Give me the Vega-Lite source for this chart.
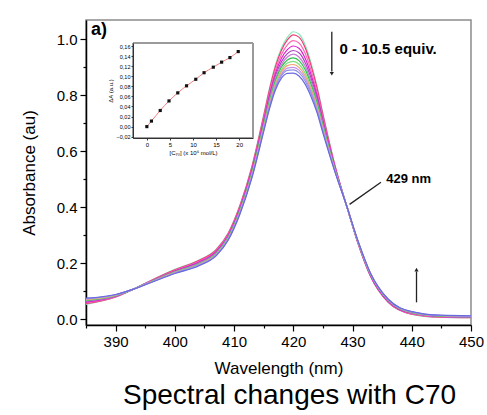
{
  "$schema": "https://vega.github.io/schema/vega-lite/v6.json",
  "width": 385,
  "height": 305,
  "autosize": {"type": "none"},
  "padding": {"left": 86, "top": 20, "right": 16, "bottom": 90},
  "background": "white",
  "config": {
    "view": {"stroke": "#8c8c8c", "strokeWidth": 1.5},
    "font": "Liberation Sans",
    "axis": {"labelFont": "Liberation Sans", "titleFont": "Liberation Sans", "labelColor": "#000", "titleColor": "#000", "titleFontWeight": "normal", "grid": false}
  },
  "title": {"text": "Spectral changes with C70", "orient": "bottom", "anchor": "middle", "fontSize": 28, "fontWeight": "normal", "font": "Liberation Sans", "color": "#000", "dx": 11, "offset": 6},
  "datasets": {
    "spectra": [
      {"s":1,"w":385,"a":0.053},{"s":1,"w":390,"a":0.078},{"s":1,"w":393,"a":0.107},{"s":1,"w":396,"a":0.139},{"s":1,"w":400,"a":0.178},{"s":1,"w":404,"a":0.210},{"s":1,"w":407,"a":0.250},{"s":1,"w":409,"a":0.308},{"s":1,"w":411,"a":0.408},{"s":1,"w":413,"a":0.546},{"s":1,"w":415,"a":0.730},{"s":1,"w":416,"a":0.827},{"s":1,"w":417,"a":0.910},{"s":1,"w":418,"a":0.969},{"s":1,"w":419,"a":1.007},{"s":1,"w":420,"a":1.027},{"s":1,"w":421,"a":1.018},{"s":1,"w":422,"a":0.980},{"s":1,"w":423,"a":0.915},{"s":1,"w":424,"a":0.833},{"s":1,"w":425,"a":0.735},{"s":1,"w":427,"a":0.553},{"s":1,"w":429,"a":0.405},{"s":1,"w":431,"a":0.266},{"s":1,"w":433,"a":0.154},{"s":1,"w":436,"a":0.060},{"s":1,"w":440,"a":0.017},{"s":1,"w":445,"a":0.006},{"s":1,"w":450,"a":0.005},
      {"s":2,"w":385,"a":0.055},{"s":2,"w":390,"a":0.079},{"s":2,"w":393,"a":0.107},{"s":2,"w":396,"a":0.138},{"s":2,"w":400,"a":0.176},{"s":2,"w":404,"a":0.209},{"s":2,"w":407,"a":0.248},{"s":2,"w":409,"a":0.306},{"s":2,"w":411,"a":0.406},{"s":2,"w":413,"a":0.543},{"s":2,"w":415,"a":0.726},{"s":2,"w":416,"a":0.822},{"s":2,"w":417,"a":0.903},{"s":2,"w":418,"a":0.961},{"s":2,"w":419,"a":0.998},{"s":2,"w":420,"a":1.016},{"s":2,"w":421,"a":1.007},{"s":2,"w":422,"a":0.970},{"s":2,"w":423,"a":0.906},{"s":2,"w":424,"a":0.826},{"s":2,"w":425,"a":0.730},{"s":2,"w":427,"a":0.551},{"s":2,"w":429,"a":0.405},{"s":2,"w":431,"a":0.266},{"s":2,"w":433,"a":0.155},{"s":2,"w":436,"a":0.061},{"s":2,"w":440,"a":0.018},{"s":2,"w":445,"a":0.007},{"s":2,"w":450,"a":0.005},
      {"s":3,"w":385,"a":0.058},{"s":3,"w":390,"a":0.080},{"s":3,"w":393,"a":0.107},{"s":3,"w":396,"a":0.137},{"s":3,"w":400,"a":0.174},{"s":3,"w":404,"a":0.206},{"s":3,"w":407,"a":0.245},{"s":3,"w":409,"a":0.302},{"s":3,"w":411,"a":0.401},{"s":3,"w":413,"a":0.537},{"s":3,"w":415,"a":0.717},{"s":3,"w":416,"a":0.811},{"s":3,"w":417,"a":0.891},{"s":3,"w":418,"a":0.946},{"s":3,"w":419,"a":0.980},{"s":3,"w":420,"a":0.995},{"s":3,"w":421,"a":0.986},{"s":3,"w":422,"a":0.950},{"s":3,"w":423,"a":0.889},{"s":3,"w":424,"a":0.812},{"s":3,"w":425,"a":0.720},{"s":3,"w":427,"a":0.547},{"s":3,"w":429,"a":0.405},{"s":3,"w":431,"a":0.267},{"s":3,"w":433,"a":0.157},{"s":3,"w":436,"a":0.063},{"s":3,"w":440,"a":0.019},{"s":3,"w":445,"a":0.008},{"s":3,"w":450,"a":0.006},
      {"s":4,"w":385,"a":0.061},{"s":4,"w":390,"a":0.081},{"s":4,"w":393,"a":0.107},{"s":4,"w":396,"a":0.136},{"s":4,"w":400,"a":0.172},{"s":4,"w":404,"a":0.203},{"s":4,"w":407,"a":0.242},{"s":4,"w":409,"a":0.299},{"s":4,"w":411,"a":0.397},{"s":4,"w":413,"a":0.532},{"s":4,"w":415,"a":0.709},{"s":4,"w":416,"a":0.802},{"s":4,"w":417,"a":0.879},{"s":4,"w":418,"a":0.932},{"s":4,"w":419,"a":0.963},{"s":4,"w":420,"a":0.976},{"s":4,"w":421,"a":0.967},{"s":4,"w":422,"a":0.932},{"s":4,"w":423,"a":0.874},{"s":4,"w":424,"a":0.800},{"s":4,"w":425,"a":0.711},{"s":4,"w":427,"a":0.544},{"s":4,"w":429,"a":0.405},{"s":4,"w":431,"a":0.269},{"s":4,"w":433,"a":0.158},{"s":4,"w":436,"a":0.064},{"s":4,"w":440,"a":0.020},{"s":4,"w":445,"a":0.009},{"s":4,"w":450,"a":0.007},
      {"s":5,"w":385,"a":0.063},{"s":5,"w":390,"a":0.083},{"s":5,"w":393,"a":0.107},{"s":5,"w":396,"a":0.135},{"s":5,"w":400,"a":0.171},{"s":5,"w":404,"a":0.201},{"s":5,"w":407,"a":0.239},{"s":5,"w":409,"a":0.296},{"s":5,"w":411,"a":0.394},{"s":5,"w":413,"a":0.527},{"s":5,"w":415,"a":0.703},{"s":5,"w":416,"a":0.794},{"s":5,"w":417,"a":0.870},{"s":5,"w":418,"a":0.920},{"s":5,"w":419,"a":0.949},{"s":5,"w":420,"a":0.960},{"s":5,"w":421,"a":0.951},{"s":5,"w":422,"a":0.917},{"s":5,"w":423,"a":0.861},{"s":5,"w":424,"a":0.790},{"s":5,"w":425,"a":0.704},{"s":5,"w":427,"a":0.541},{"s":5,"w":429,"a":0.405},{"s":5,"w":431,"a":0.270},{"s":5,"w":433,"a":0.159},{"s":5,"w":436,"a":0.065},{"s":5,"w":440,"a":0.022},{"s":5,"w":445,"a":0.010},{"s":5,"w":450,"a":0.008},
      {"s":6,"w":385,"a":0.065},{"s":6,"w":390,"a":0.083},{"s":6,"w":393,"a":0.107},{"s":6,"w":396,"a":0.135},{"s":6,"w":400,"a":0.169},{"s":6,"w":404,"a":0.199},{"s":6,"w":407,"a":0.237},{"s":6,"w":409,"a":0.294},{"s":6,"w":411,"a":0.391},{"s":6,"w":413,"a":0.523},{"s":6,"w":415,"a":0.697},{"s":6,"w":416,"a":0.787},{"s":6,"w":417,"a":0.861},{"s":6,"w":418,"a":0.910},{"s":6,"w":419,"a":0.937},{"s":6,"w":420,"a":0.947},{"s":6,"w":421,"a":0.936},{"s":6,"w":422,"a":0.904},{"s":6,"w":423,"a":0.850},{"s":6,"w":424,"a":0.781},{"s":6,"w":425,"a":0.697},{"s":6,"w":427,"a":0.539},{"s":6,"w":429,"a":0.405},{"s":6,"w":431,"a":0.270},{"s":6,"w":433,"a":0.161},{"s":6,"w":436,"a":0.067},{"s":6,"w":440,"a":0.022},{"s":6,"w":445,"a":0.010},{"s":6,"w":450,"a":0.008},
      {"s":7,"w":385,"a":0.067},{"s":7,"w":390,"a":0.084},{"s":7,"w":393,"a":0.107},{"s":7,"w":396,"a":0.134},{"s":7,"w":400,"a":0.168},{"s":7,"w":404,"a":0.197},{"s":7,"w":407,"a":0.235},{"s":7,"w":409,"a":0.292},{"s":7,"w":411,"a":0.388},{"s":7,"w":413,"a":0.520},{"s":7,"w":415,"a":0.692},{"s":7,"w":416,"a":0.780},{"s":7,"w":417,"a":0.853},{"s":7,"w":418,"a":0.901},{"s":7,"w":419,"a":0.926},{"s":7,"w":420,"a":0.934},{"s":7,"w":421,"a":0.923},{"s":7,"w":422,"a":0.892},{"s":7,"w":423,"a":0.839},{"s":7,"w":424,"a":0.773},{"s":7,"w":425,"a":0.691},{"s":7,"w":427,"a":0.537},{"s":7,"w":429,"a":0.405},{"s":7,"w":431,"a":0.271},{"s":7,"w":433,"a":0.162},{"s":7,"w":436,"a":0.068},{"s":7,"w":440,"a":0.023},{"s":7,"w":445,"a":0.011},{"s":7,"w":450,"a":0.009},
      {"s":8,"w":385,"a":0.069},{"s":8,"w":390,"a":0.085},{"s":8,"w":393,"a":0.107},{"s":8,"w":396,"a":0.133},{"s":8,"w":400,"a":0.167},{"s":8,"w":404,"a":0.196},{"s":8,"w":407,"a":0.233},{"s":8,"w":409,"a":0.289},{"s":8,"w":411,"a":0.385},{"s":8,"w":413,"a":0.516},{"s":8,"w":415,"a":0.687},{"s":8,"w":416,"a":0.774},{"s":8,"w":417,"a":0.845},{"s":8,"w":418,"a":0.891},{"s":8,"w":419,"a":0.915},{"s":8,"w":420,"a":0.921},{"s":8,"w":421,"a":0.910},{"s":8,"w":422,"a":0.879},{"s":8,"w":423,"a":0.829},{"s":8,"w":424,"a":0.764},{"s":8,"w":425,"a":0.685},{"s":8,"w":427,"a":0.535},{"s":8,"w":429,"a":0.405},{"s":8,"w":431,"a":0.272},{"s":8,"w":433,"a":0.163},{"s":8,"w":436,"a":0.069},{"s":8,"w":440,"a":0.024},{"s":8,"w":445,"a":0.012},{"s":8,"w":450,"a":0.010},
      {"s":9,"w":385,"a":0.070},{"s":9,"w":390,"a":0.086},{"s":9,"w":393,"a":0.107},{"s":9,"w":396,"a":0.133},{"s":9,"w":400,"a":0.166},{"s":9,"w":404,"a":0.194},{"s":9,"w":407,"a":0.231},{"s":9,"w":409,"a":0.287},{"s":9,"w":411,"a":0.383},{"s":9,"w":413,"a":0.513},{"s":9,"w":415,"a":0.682},{"s":9,"w":416,"a":0.768},{"s":9,"w":417,"a":0.839},{"s":9,"w":418,"a":0.884},{"s":9,"w":419,"a":0.906},{"s":9,"w":420,"a":0.910},{"s":9,"w":421,"a":0.899},{"s":9,"w":422,"a":0.869},{"s":9,"w":423,"a":0.820},{"s":9,"w":424,"a":0.757},{"s":9,"w":425,"a":0.680},{"s":9,"w":427,"a":0.533},{"s":9,"w":429,"a":0.405},{"s":9,"w":431,"a":0.273},{"s":9,"w":433,"a":0.164},{"s":9,"w":436,"a":0.070},{"s":9,"w":440,"a":0.025},{"s":9,"w":445,"a":0.012},{"s":9,"w":450,"a":0.010},
      {"s":10,"w":385,"a":0.072},{"s":10,"w":390,"a":0.087},{"s":10,"w":393,"a":0.107},{"s":10,"w":396,"a":0.132},{"s":10,"w":400,"a":0.165},{"s":10,"w":404,"a":0.193},{"s":10,"w":407,"a":0.230},{"s":10,"w":409,"a":0.286},{"s":10,"w":411,"a":0.381},{"s":10,"w":413,"a":0.510},{"s":10,"w":415,"a":0.678},{"s":10,"w":416,"a":0.763},{"s":10,"w":417,"a":0.833},{"s":10,"w":418,"a":0.876},{"s":10,"w":419,"a":0.897},{"s":10,"w":420,"a":0.900},{"s":10,"w":421,"a":0.889},{"s":10,"w":422,"a":0.860},{"s":10,"w":423,"a":0.812},{"s":10,"w":424,"a":0.751},{"s":10,"w":425,"a":0.675},{"s":10,"w":427,"a":0.531},{"s":10,"w":429,"a":0.405},{"s":10,"w":431,"a":0.273},{"s":10,"w":433,"a":0.164},{"s":10,"w":436,"a":0.070},{"s":10,"w":440,"a":0.026},{"s":10,"w":445,"a":0.013},{"s":10,"w":450,"a":0.011},
      {"s":11,"w":385,"a":0.073},{"s":11,"w":390,"a":0.087},{"s":11,"w":393,"a":0.107},{"s":11,"w":396,"a":0.132},{"s":11,"w":400,"a":0.164},{"s":11,"w":404,"a":0.192},{"s":11,"w":407,"a":0.228},{"s":11,"w":409,"a":0.284},{"s":11,"w":411,"a":0.379},{"s":11,"w":413,"a":0.507},{"s":11,"w":415,"a":0.675},{"s":11,"w":416,"a":0.759},{"s":11,"w":417,"a":0.827},{"s":11,"w":418,"a":0.870},{"s":11,"w":419,"a":0.889},{"s":11,"w":420,"a":0.891},{"s":11,"w":421,"a":0.880},{"s":11,"w":422,"a":0.851},{"s":11,"w":423,"a":0.805},{"s":11,"w":424,"a":0.745},{"s":11,"w":425,"a":0.671},{"s":11,"w":427,"a":0.530},{"s":11,"w":429,"a":0.405},{"s":11,"w":431,"a":0.274},{"s":11,"w":433,"a":0.165},{"s":11,"w":436,"a":0.071},{"s":11,"w":440,"a":0.026},{"s":11,"w":445,"a":0.013},{"s":11,"w":450,"a":0.011},
      {"s":12,"w":385,"a":0.075},{"s":12,"w":390,"a":0.088},{"s":12,"w":393,"a":0.107},{"s":12,"w":396,"a":0.131},{"s":12,"w":400,"a":0.163},{"s":12,"w":404,"a":0.190},{"s":12,"w":407,"a":0.227},{"s":12,"w":409,"a":0.282},{"s":12,"w":411,"a":0.376},{"s":12,"w":413,"a":0.504},{"s":12,"w":415,"a":0.670},{"s":12,"w":416,"a":0.753},{"s":12,"w":417,"a":0.820},{"s":12,"w":418,"a":0.861},{"s":12,"w":419,"a":0.878},{"s":12,"w":420,"a":0.879},{"s":12,"w":421,"a":0.868},{"s":12,"w":422,"a":0.840},{"s":12,"w":423,"a":0.795},{"s":12,"w":424,"a":0.738},{"s":12,"w":425,"a":0.665},{"s":12,"w":427,"a":0.528},{"s":12,"w":429,"a":0.405},{"s":12,"w":431,"a":0.275},{"s":12,"w":433,"a":0.166},{"s":12,"w":436,"a":0.072},{"s":12,"w":440,"a":0.027},{"s":12,"w":445,"a":0.014},{"s":12,"w":450,"a":0.012}
    ],
    "inset": [
      {"c":0,"dA":0.000},{"c":1.0,"dA":0.011},{"c":2.9,"dA":0.032},{"c":4.8,"dA":0.051},{"c":6.7,"dA":0.067},{"c":8.6,"dA":0.081},{"c":10.6,"dA":0.094},{"c":12.4,"dA":0.107},{"c":14.4,"dA":0.118},{"c":16.2,"dA":0.128},{"c":18.0,"dA":0.137},{"c":19.8,"dA":0.149}
    ]
  },
  "layer": [
    {
      "encoding": {
        "x": {"field": "w", "type": "quantitative",
          "scale": {"domain": [385, 450], "nice": false, "zero": false},
          "axis": {"values": [385,390,395,400,405,410,415,420,425,430,435,440,445,450], "format": "d",
            "labelExpr": "datum.value % 10 === 0 ? datum.label : ''",
            "tickSize": {"condition": {"test": "datum.value % 10 === 0", "value": 6}, "value": 3},
            "labelFontSize": 15, "labelPadding": 3, "labelFlush": false,
            "title": "Wavelength (nm)", "titleFontSize": 17, "titlePadding": 11,
            "domainColor": "#000", "domainWidth": 1.5, "tickColor": "#000", "tickWidth": 1.2}},
        "y": {"field": "a", "type": "quantitative",
          "scale": {"domain": [-0.021, 1.069], "nice": false, "zero": false},
          "axis": {"values": [0,0.1,0.2,0.3,0.4,0.5,0.6,0.7,0.8,0.9,1.0], "format": ".1f",
            "labelExpr": "round(datum.value*10) % 2 === 0 ? datum.label : ''",
            "tickSize": {"condition": {"test": "round(datum.value*10) % 2 === 0", "value": 6}, "value": 3},
            "labelFontSize": 15, "labelPadding": 3,
            "title": "Absorbance (au)", "titleFontSize": 17, "titlePadding": 18,
            "domainColor": "#000", "domainWidth": 1.5, "tickColor": "#000", "tickWidth": 1.2}}
      },
      "layer": [
        {
          "data": {"name": "spectra"},
          "mark": {"type": "line", "interpolate": "monotone", "strokeWidth": 1.2},
          "encoding": {
            "color": {"field": "s", "type": "nominal", "legend": null,
              "scale": {"domain": [1,2,3,4,5,6,7,8,9,10,11,12],
                "range": ["#88e8b8","#f03c78","#ff69b4","#e020d0","#b040c0","#c77dd6","#2fbf4f","#7be07b","#f4a070","#c090f0","#9090e8","#6a6ae0"]}},
            "detail": {"field": "s"}
          }
        },
        {
          "data": {"values": [{"w": 426.5, "a": 1.027, "w2": 426.5, "a2": 0.885}, {"w": 440.8, "a": 0.06, "w2": 440.8, "a2": 0.17}, {"w": 434.8, "a": 0.489, "w2": 429.5, "a2": 0.41}]},
          "mark": {"type": "rule", "color": "#222", "strokeWidth": 1.3},
          "encoding": {"x2": {"field": "w2"}, "y2": {"field": "a2"}}
        },
        {
          "data": {"values": [{"w": 426.5, "a": 0.877, "sh": "triangle-down"}, {"w": 440.8, "a": 0.177, "sh": "triangle-up"}]},
          "mark": {"type": "point", "filled": true, "color": "#222", "size": 18, "opacity": 1},
          "encoding": {"shape": {"field": "sh", "type": "nominal", "scale": null}}
        },
        {
          "data": {"values": [{"w": 385.85, "a": 1.015, "t": "a)"}]},
          "mark": {"type": "text", "align": "left", "baseline": "alphabetic", "fontSize": 18, "fontWeight": "bold", "color": "#000"},
          "encoding": {"text": {"field": "t"}}
        },
        {
          "data": {"values": [{"w": 427.8, "a": 0.965, "t": "0 - 10.5 equiv."}]},
          "mark": {"type": "text", "align": "left", "baseline": "middle", "fontSize": 15, "fontWeight": "bold", "color": "#000"},
          "encoding": {"text": {"field": "t"}}
        },
        {
          "data": {"values": [{"w": 435.7, "a": 0.486, "t": "429 nm"}]},
          "mark": {"type": "text", "align": "left", "baseline": "alphabetic", "fontSize": 13, "fontWeight": "bold", "color": "#000"},
          "encoding": {"text": {"field": "t"}}
        }
      ]
    },
    {
      "data": {"name": "inset"},
      "encoding": {
        "x": {"field": "c", "type": "quantitative",
          "scale": {"domain": [-3, 23], "range": [47, 167], "nice": false, "zero": false},
          "axis": {"orient": "bottom", "offset": -187, "values": [0,5,10,15,20], "labelFontSize": 6, "labelPadding": 1, "tickSize": 2, "labelFlush": false,
            "title": "[C₇₀] (x 10⁶ mol/L)", "titleFontSize": 6, "titlePadding": 2,
            "domainColor": "#333", "tickColor": "#333", "zindex": 1}},
        "y": {"field": "dA", "type": "quantitative",
          "scale": {"domain": [-0.0226, 0.166], "range": [118, 23], "nice": false, "zero": false},
          "axis": {"orient": "left", "offset": -47, "values": [-0.02,0,0.02,0.04,0.06,0.08,0.1,0.12,0.14,0.16],
            "labelExpr": "replace(format(datum.value, '.2f'), '.', ',')",
            "labelFontSize": 5.5, "labelPadding": 1, "tickSize": 2, "labelFlush": false,
            "title": "ΔA (a.u.)", "titleFontSize": 6, "titlePadding": 3,
            "domainColor": "#333", "tickColor": "#333", "zindex": 1}}
      },
      "layer": [
        {
          "mark": {"type": "rect", "fill": null, "stroke": "#9a9a9a", "strokeWidth": 1},
          "encoding": {"x": {"datum": -3}, "x2": {"datum": 23}, "y": {"datum": -0.0226}, "y2": {"datum": 0.166}}
        },
        {
          "mark": {"type": "line", "color": "#f08080", "strokeWidth": 1, "interpolate": "monotone"}
        },
        {
          "mark": {"type": "point", "shape": "square", "filled": true, "color": "#111", "size": 10, "opacity": 1}
        }
      ]
    }
  ],
  "resolve": {"scale": {"x": "independent", "y": "independent"}, "axis": {"x": "independent", "y": "independent"}}
}
